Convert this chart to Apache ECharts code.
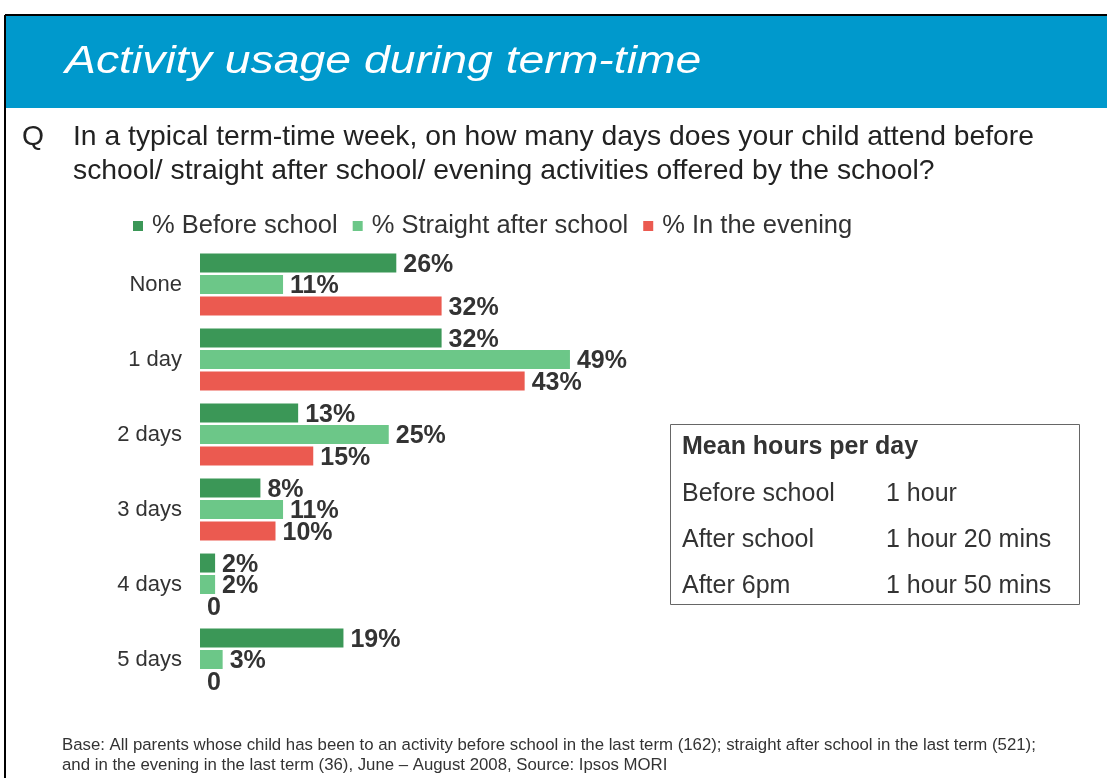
<!DOCTYPE html>
<html>
<head>
<meta charset="utf-8">
<script src="https://cdn.jsdelivr.net/npm/echarts@6/dist/echarts.min.js"></script>
<style>
  html, body { margin: 0; padding: 0; background: #fff; }
  #chart { width: 1107px; height: 778px; }
</style>
</head>
<body>
<div id="chart"></div>
<script>
const categories = ['None', '1 day', '2 days', '3 days', '4 days', '5 days']
const seriesNames = ['% Before school', '% Straight after school', '% In the evening']
const beforeSchool = [26, 32, 13, 8, 2, 19]
const afterSchool = [11, 49, 25, 11, 2, 3]
const evening = [32, 43, 15, 10, 0, 0]
const colors = ['#3b9757', '#6cc788', '#eb5a50']

const tableTitle = 'Mean hours per day'
const tableRows = ['Before school', 'After school', 'After 6pm']
const tableValues = ['1 hour', '1 hour 20 mins', '1 hour 50 mins']

const font = 'Arial, "Liberation Sans", sans-serif'

const chart = echarts.init(document.getElementById('chart'))

const makeSeries = (name, data, color) => ({
  name: name,
  type: 'bar',
  data: data,
  barWidth: 19,
  barGap: '13%',
  barCategoryGap: '17%',
  itemStyle: { color: color },
  label: {
    show: true,
    position: 'right',
    distance: 7,
    offset: [0, 2],
    color: '#333',
    fontFamily: font,
    fontWeight: 'bold',
    fontSize: 25,
    formatter: (p) => (p.value === 0 ? '0' : p.value + '%')
  }
})

// table rows
const tableGraphics = []
tableRows.forEach((row, i) => {
  tableGraphics.push({
    type: 'text', x: 682, y: 494 + i * 46,
    style: { text: row, fill: '#333', font: '25px ' + font, verticalAlign: 'middle' }
  })
  tableGraphics.push({
    type: 'text', x: 886, y: 494 + i * 46,
    style: { text: tableValues[i], fill: '#333', font: '25px ' + font, verticalAlign: 'middle' }
  })
})

const option = {
  animation: false,
  textStyle: { fontFamily: font },
  legend: {
    top: 208,
    left: 128,
    itemWidth: 10,
    itemHeight: 10,
    itemGap: 15,
    icon: 'rect',
    textStyle: { fontSize: 25.5, color: '#333', fontFamily: font, padding: [0, 0, 0, 4] },
    data: seriesNames
  },
  grid: {
    left: 200,
    right: 152,
    top: 247,
    height: 450
  },
  xAxis: {
    type: 'value',
    min: 0,
    max: 100,
    show: false
  },
  yAxis: {
    type: 'category',
    inverse: true,
    data: categories,
    axisLine: { show: false },
    axisTick: { show: false },
    splitLine: { show: false },
    axisLabel: { color: '#333', fontSize: 22, fontFamily: font, margin: 18 }
  },
  series: [
    makeSeries(seriesNames[0], beforeSchool, colors[0]),
    makeSeries(seriesNames[1], afterSchool, colors[1]),
    makeSeries(seriesNames[2], evening, colors[2])
  ],
  graphic: [
    { type: 'rect', shape: { x: 5, y: 16, width: 1102, height: 92 }, style: { fill: '#0099cc' } },
    { type: 'line', shape: { x1: 5, y1: 15, x2: 1107, y2: 15 }, style: { stroke: '#000', lineWidth: 2 } },
    { type: 'line', shape: { x1: 5, y1: 15, x2: 5, y2: 778 }, style: { stroke: '#000', lineWidth: 2 } },
    {
      type: 'text', x: 65, y: 62, scaleX: 1.22,
      style: { text: 'Activity usage during term-time', fill: '#fff', font: 'italic 38px ' + font, verticalAlign: 'middle' }
    },
    {
      type: 'text', x: 22, y: 137,
      style: { text: 'Q', fill: '#222', font: '28.3px ' + font, verticalAlign: 'middle' }
    },
    {
      type: 'text', x: 73, y: 137,
      style: {
        text: 'In a typical term-time week, on how many days does your child attend before',
        fill: '#222', font: '28.3px ' + font, verticalAlign: 'middle'
      }
    },
    {
      type: 'text', x: 73, y: 171,
      style: {
        text: 'school/ straight after school/ evening activities offered by the school?',
        fill: '#222', font: '28.3px ' + font, verticalAlign: 'middle'
      }
    },
    {
      type: 'rect', shape: { x: 670.5, y: 424.5, width: 409, height: 180 },
      style: { fill: '#fff', stroke: '#666', lineWidth: 1 }
    },
    {
      type: 'text', x: 682, y: 447,
      style: { text: tableTitle, fill: '#333', font: 'bold 25px ' + font, verticalAlign: 'middle' }
    },
    ...tableGraphics,
    {
      type: 'text', x: 62, y: 745,
      style: {
        text: 'Base: All parents whose child has been to an activity before school in the last term (162); straight after school in the last term (521);',
        fill: '#333', font: '16.8px ' + font, verticalAlign: 'middle'
      }
    },
    {
      type: 'text', x: 62, y: 765,
      style: {
        text: 'and in the evening in the last term (36), June \u2013 August 2008, Source: Ipsos MORI',
        fill: '#333', font: '16.8px ' + font, verticalAlign: 'middle'
      }
    }
  ]
}

chart.setOption(option)
</script>
</body>
</html>
